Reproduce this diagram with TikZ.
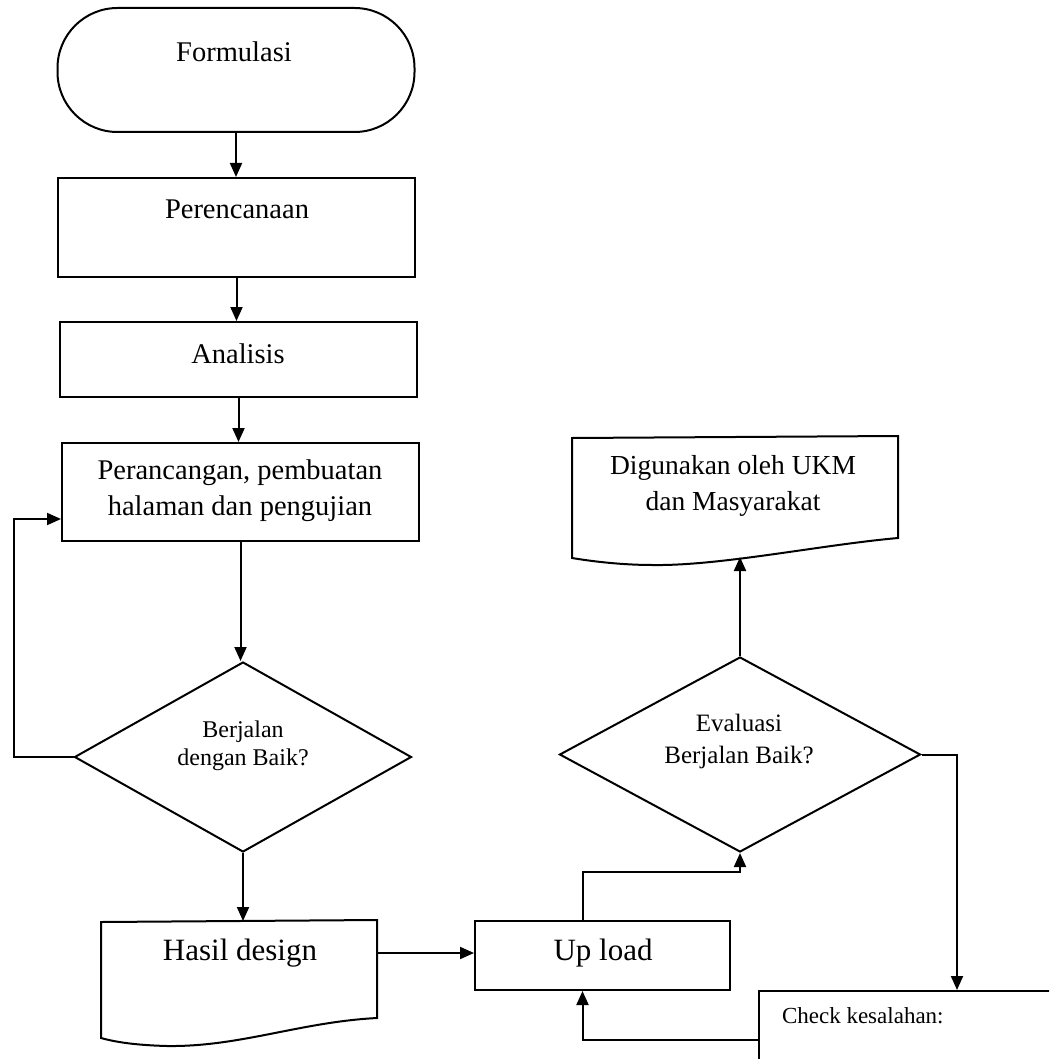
\documentclass[tikz,border=0pt]{standalone}
\usepackage{fontspec}
\setmainfont{Liberation Serif}
\usetikzlibrary{arrows.meta,shapes.geometric,calc}
\begin{document}
\begin{tikzpicture}[x=1pt,y=-1pt, line width=2pt,
  arr/.style={-{Triangle[length=14pt,width=12pt]}},
  box/.style={draw, rectangle, inner sep=0pt},
  txt/.style={inner sep=0pt, align=center},
  big/.style={font=\fontsize{28.5}{36}\selectfont},
  huge/.style={font=\fontsize{31}{36}\selectfont}]
\clip (0,0) rectangle (1049,1059);
\fill[white] (0,0) rectangle (1049,1059);
% nodes
\node[box, rounded corners=60pt, minimum width=357pt, minimum height=124pt] (form) at (236,70) {};
\node[txt, big] (formT) at (234,52) {Formulasi};
\node[box, minimum width=357pt, minimum height=99pt] (per) at (236.5,227.5) {};
\node[txt, big] (perT) at (237,209) {Perencanaan};
\node[box, minimum width=357pt, minimum height=75pt] (ana) at (238.5,359.5) {};
\node[txt, big] (anaT) at (238,354) {Analisis};
\node[box, minimum width=357pt, minimum height=98pt] (pr) at (240.5,492) {};
\node[txt, big] (prT) at (240,491) {Perancangan, pembuatan\\halaman dan pengujian};
\node[draw, diamond, minimum width=337pt, minimum height=190pt, inner sep=0pt] (d1) at (243,757) {};
\node[txt, font=\fontsize{24}{28}\selectfont] (d1T) at (243,746) {Berjalan\\dengan Baik?};
% Hasil design document
\draw (101,922) -- (377,920) -- (377,1018) .. controls (300,1022) and (240,1047) .. (167,1046) .. controls (130,1045) and (112,1041) .. (101,1038) -- cycle;
\coordinate (hdN) at (245,921);
\coordinate (hdE) at (377,953);
\node[txt, huge] (hdT) at (240,953) {Hasil design};
\node[box, minimum width=255pt, minimum height=69pt] (up) at (602.5,955.5) {};
\node[txt, huge] (upT) at (603,953) {Up load};
\node[draw, diamond, minimum width=361pt, minimum height=195pt, inner sep=0pt] (d2) at (740,754.5) {};
\node[txt, font=\fontsize{25}{32}\selectfont] (d2T) at (739,741) {Evaluasi\\Berjalan Baik?};
% Digunakan document
\draw (572,438) -- (898,436) -- (898,538) .. controls (820,545) and (720,566) .. (653,565) .. controls (620,565) and (590,561) .. (572,558) -- cycle;
\coordinate (digS) at (740,557);
\node[txt, font=\fontsize{27.5}{36}\selectfont] (digT) at (733,486) {Digunakan oleh UKM\\dan Masyarakat};
% Check box
\node[box, anchor=north west, minimum width=400pt, minimum height=120pt] (chk) at (758,990) {};
\node[txt, anchor=west, font=\fontsize{23}{28}\selectfont] (chkT) at (781,1016) {Check kesalahan:};
% connectors
\draw[arr] (form.south) -- (form.south |- per.north);
\draw[arr] (per.south) -- (per.south |- ana.north);
\draw[arr] (ana.south) -- (ana.south |- pr.north);
\draw[arr] (pr.south) -- (pr.south |- d1.north);
\draw[arr] (d1.west) -- ++(-60,0) |- ([yshift=23pt]pr.south west);
\draw[arr] (d1.south) -- (d1.south |- hdN);
\draw[arr] (hdE) -- (hdE -| up.west);
\draw[arr] ([xshift=-20pt]up.north) -- ++(0,-48) -| (d2.south);
\draw[arr] (d2.north) -- (digS);
\draw[arr] (d2.east) -| ([xshift=199pt]chk.north west);
\draw[arr] ([yshift=-50pt]chk.north west) -| ([xshift=-20pt]up.south);
\end{tikzpicture}
\end{document}
